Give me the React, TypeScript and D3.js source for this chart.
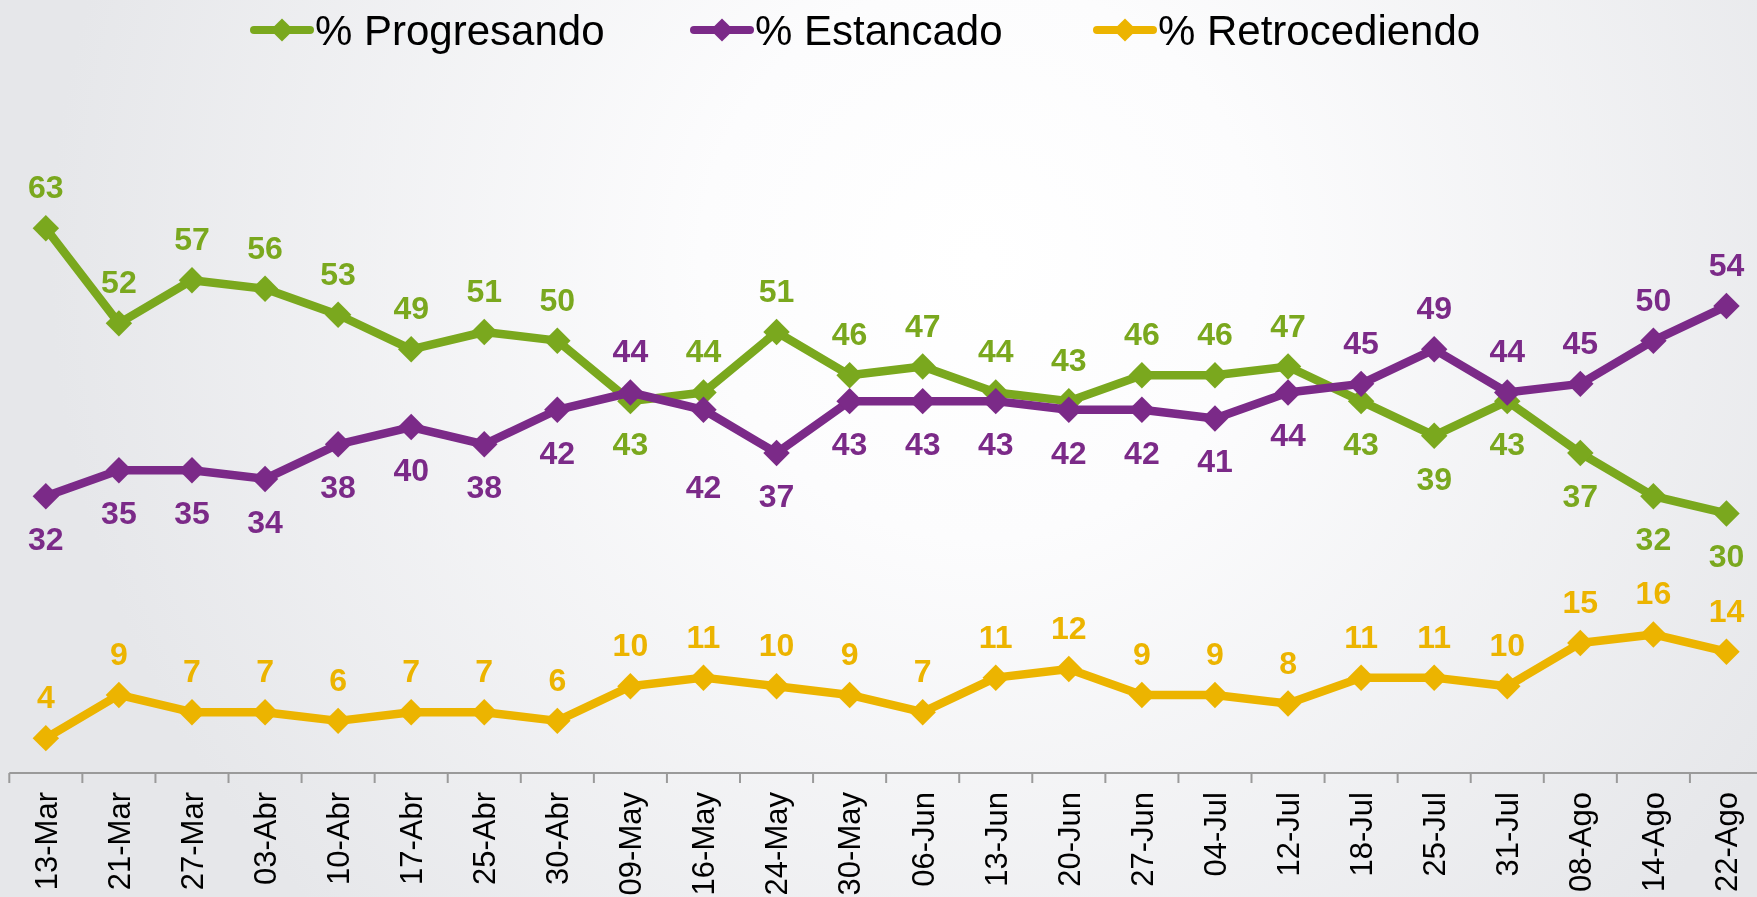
import * as d3 from "d3";

const dates = [
  "13-Mar", "21-Mar", "27-Mar", "03-Abr", "10-Abr", "17-Abr", "25-Abr", "30-Abr",
  "09-May", "16-May", "24-May", "30-May", "06-Jun", "13-Jun", "20-Jun", "27-Jun",
  "04-Jul", "12-Jul", "18-Jul", "25-Jul", "31-Jul", "08-Ago", "14-Ago", "22-Ago",
];

const progresando = [63, 52, 57, 56, 53, 49, 51, 50, 43, 44, 51, 46, 47, 44, 43, 46, 46, 47, 43, 39, 43, 37, 32, 30];
const estancado = [32, 35, 35, 34, 38, 40, 38, 42, 44, 42, 37, 43, 43, 43, 42, 42, 41, 44, 45, 49, 44, 45, 50, 54];
const retrocediendo = [4, 9, 7, 7, 6, 7, 7, 6, 10, 11, 10, 9, 7, 11, 12, 9, 9, 8, 11, 11, 10, 15, 16, 14];

const seriesNames = ["% Progresando", "% Estancado", "% Retrocediendo"];
const seriesColors = ["#7aa81e", "#7b2a88", "#ecb400"];

const W = 1757;
const H = 897;
const FONT = "'Liberation Sans', Arial, sans-serif";

export default function App() {
  const series = [progresando, estancado, retrocediendo];

  const x = d3.scaleBand<string>().domain(dates).range([9.3, 1763]);
  const cx = (d: string) => (x(d) ?? 0) + x.bandwidth() / 2;
  const y = d3.scaleLinear().domain([0, 70]).range([772.7, 772.7 - 70 * 8.641]);

  const line = d3.line<number>()
    .x((_, i) => cx(dates[i]))
    .y((v) => y(v));

  const diamond = d3.symbol(d3.symbolSquare, 350)();
  const legendDiamond = d3.symbol(d3.symbolSquare, 270)();

  // label goes above unless the other main series is higher at that date
  const isAbove = (s: number, i: number) => {
    if (s === 0) return progresando[i] >= estancado[i];
    if (s === 1) return estancado[i] > progresando[i];
    return true;
  };
  // one label was dragged down by hand in the original (purple, 16-May)
  const nudge = (s: number, i: number) => (s === 1 && dates[i] === "16-May" ? 34 : 0);

  const legendX = [252, 692, 1095];

  return (
    <div style={{ position: "fixed", left: 0, top: 0 }}>
      <svg width={W} height={H} style={{ display: "block" }}>
        <defs>
          <radialGradient id="bg" gradientUnits="userSpaceOnUse" cx={980} cy={260} r={930}>
            <stop offset="0%" stopColor="#ffffff" />
            <stop offset="30%" stopColor="#fcfcfd" />
            <stop offset="100%" stopColor="#e6e7ea" />
          </radialGradient>
        </defs>
        <rect width={W} height={H} fill="url(#bg)" />

        {/* legend */}
        {seriesNames.map((name, s) => (
          <g key={name} transform={`translate(${legendX[s]},30)`}>
            <line x1={2} x2={58} y1={0} y2={0} stroke={seriesColors[s]} strokeWidth={8} strokeLinecap="round" />
            <path d={legendDiamond} transform="translate(30,0) rotate(45)" fill={seriesColors[s]} />
            <text x={63} y={15} fontFamily={FONT} fontSize={42} fill="#000">{name}</text>
          </g>
        ))}

        {/* x axis */}
        <line x1={9.3} x2={W} y1={773} y2={773} stroke="#9a9a9a" strokeWidth={2} />
        {dates.map((d) => (
          <line key={d} x1={x(d)} x2={x(d)} y1={773} y2={783} stroke="#9a9a9a" strokeWidth={2} />
        ))}
        {dates.map((d) => (
          <text
            key={d}
            transform={`translate(${cx(d)},792) rotate(-90)`}
            textAnchor="end"
            dy="0.35em"
            fontFamily={FONT}
            fontSize={31}
            fill="#000"
          >
            {d}
          </text>
        ))}

        {/* series */}
        {series.map((vals, s) => (
          <g key={s}>
            <path d={line(vals) ?? ""} fill="none" stroke={seriesColors[s]} strokeWidth={8.5} strokeLinejoin="round" />
            {vals.map((v, i) => (
              <path key={i} d={diamond} transform={`translate(${cx(dates[i])},${y(v)}) rotate(45)`} fill={seriesColors[s]} />
            ))}
          </g>
        ))}

        {/* data labels */}
        {series.map((vals, s) => (
          <g key={s}>
            {vals.map((v, i) => (
              <text
                key={i}
                x={cx(dates[i])}
                y={y(v) + (isAbove(s, i) ? -30 : 54) + nudge(s, i)}
                textAnchor="middle"
                fontFamily={FONT}
                fontWeight="bold"
                fontSize={32}
                fill={seriesColors[s]}
              >
                {v}
              </text>
            ))}
          </g>
        ))}
      </svg>
    </div>
  );
}
